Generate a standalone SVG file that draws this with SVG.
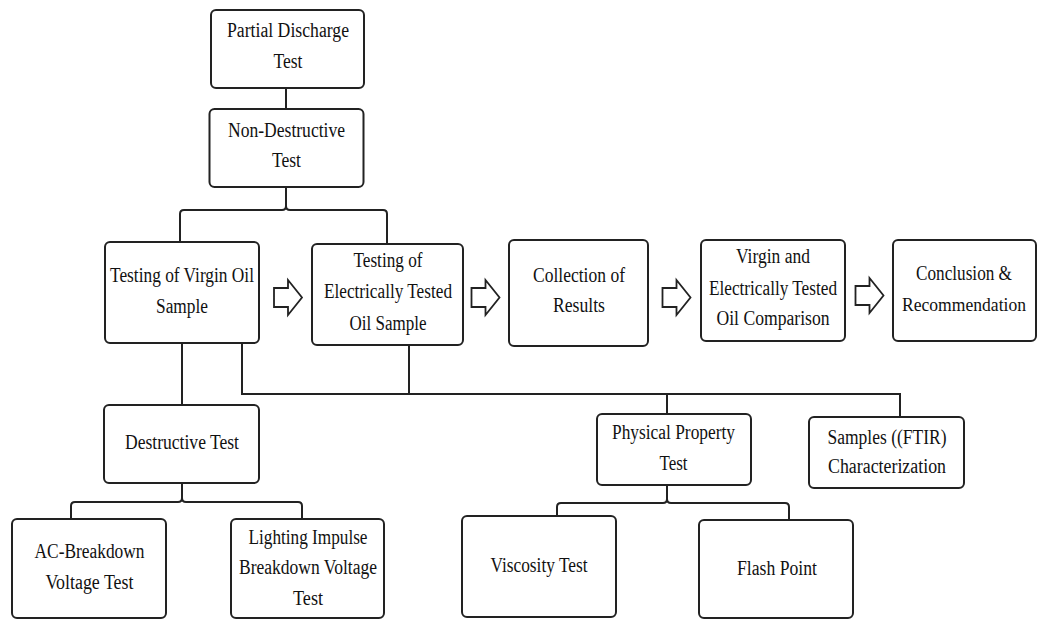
<svg xmlns="http://www.w3.org/2000/svg" xmlns:xlink="http://www.w3.org/1999/xlink" width="1039" height="620" viewBox="0 0 1039 620">
<style>
.box{fill:#fff;stroke:#222;stroke-width:2}
.t{font-family:"Liberation Serif","Times New Roman",serif;font-size:20px;fill:#111;text-anchor:middle}
.s{font-size:19px}
.con{fill:none;stroke:#222;stroke-width:2}
.arr{fill:#fff;stroke:#222;stroke-width:1.8;stroke-linejoin:miter}
</style>
<defs>
<path id="blockArrow" d="M0,8 H14 V0 L28,17.5 L14,35 V27 H0 Z"/>
</defs>
<rect width="1039" height="620" fill="#fff"/>
<g id="connectors">
<path class="con" d="M286,88 V109"/>
<path class="con" d="M180,242 V214 Q180,210 184,210 H282 Q286,210 286,206 V187 M286,206 Q286,210 290,210 H383 Q387,210 387,214 V244"/>
<path class="con" d="M182,343 V405"/>
<path class="con" d="M242,343 V394 H900 V417 M409,345 V394 M667,394 V414"/>
<path class="con" d="M71,519 V506 Q71,502 75,502 H178 Q182,502 182,498 V483 M182,498 Q182,502 186,502 H298 Q302,502 302,506 V519"/>
<path class="con" d="M557,516 V507 Q557,503 561,503 H663 Q667,503 667,499 V485 M667,499 Q667,503 671,503 H785 Q789,503 789,507 V520"/>
<use href="#blockArrow" xlink:href="#blockArrow" class="arr" x="274" y="280"/>
<use href="#blockArrow" xlink:href="#blockArrow" class="arr" x="471.5" y="280"/>
<use href="#blockArrow" xlink:href="#blockArrow" class="arr" x="662.5" y="280"/>
<use href="#blockArrow" xlink:href="#blockArrow" class="arr" x="855.5" y="278"/>
</g>
<g id="partial-discharge">
<rect class="box" x="211" y="10" width="153" height="78" rx="5"/>
<text class="t" x="288" y="37" textLength="122" lengthAdjust="spacingAndGlyphs">Partial Discharge</text>
<text class="t" x="288" y="68" textLength="29" lengthAdjust="spacingAndGlyphs">Test</text>
</g>
<g id="non-destructive">
<rect class="box" x="209.5" y="109" width="154" height="78" rx="5"/>
<text class="t" x="286.5" y="137" textLength="117" lengthAdjust="spacingAndGlyphs">Non-Destructive</text>
<text class="t" x="286.5" y="167" textLength="29" lengthAdjust="spacingAndGlyphs">Test</text>
</g>
<g id="virgin-oil">
<rect class="box" x="105" y="242" width="154" height="101" rx="5"/>
<text class="t" x="182" y="282" textLength="144" lengthAdjust="spacingAndGlyphs">Testing of Virgin Oil</text>
<text class="t" x="182" y="312.5" textLength="52" lengthAdjust="spacingAndGlyphs">Sample</text>
</g>
<g id="electrically-tested">
<rect class="box" x="312" y="244" width="151" height="101" rx="5"/>
<text class="t" x="388" y="267" textLength="69" lengthAdjust="spacingAndGlyphs">Testing of</text>
<text class="t" x="388" y="298" textLength="128" lengthAdjust="spacingAndGlyphs">Electrically Tested</text>
<text class="t" x="388" y="330" textLength="77" lengthAdjust="spacingAndGlyphs">Oil Sample</text>
</g>
<g id="collection">
<rect class="box" x="509" y="240" width="139" height="106" rx="5"/>
<text class="t" x="579" y="282" textLength="92" lengthAdjust="spacingAndGlyphs">Collection of</text>
<text class="t" x="579" y="312" textLength="52" lengthAdjust="spacingAndGlyphs">Results</text>
</g>
<g id="comparison">
<rect class="box" x="701" y="240" width="144" height="101" rx="5"/>
<text class="t" x="773" y="263" textLength="74" lengthAdjust="spacingAndGlyphs">Virgin and</text>
<text class="t" x="773" y="295" textLength="128" lengthAdjust="spacingAndGlyphs">Electrically Tested</text>
<text class="t" x="773" y="325" textLength="113" lengthAdjust="spacingAndGlyphs">Oil Comparison</text>
</g>
<g id="conclusion">
<rect class="box" x="893" y="240" width="143" height="101" rx="5"/>
<text class="t" x="964" y="280" textLength="96" lengthAdjust="spacingAndGlyphs">Conclusion &amp;</text>
<text class="t s" x="964" y="310.5" textLength="124" lengthAdjust="spacingAndGlyphs">Recommendation</text>
</g>
<g id="destructive">
<rect class="box" x="104" y="405" width="155" height="78" rx="5"/>
<text class="t" x="182" y="449" textLength="114" lengthAdjust="spacingAndGlyphs">Destructive Test</text>
</g>
<g id="ac-breakdown">
<rect class="box" x="12" y="519" width="154" height="99" rx="5"/>
<text class="t" x="89.5" y="557.5" textLength="110" lengthAdjust="spacingAndGlyphs">AC-Breakdown</text>
<text class="t" x="89.5" y="589" textLength="88" lengthAdjust="spacingAndGlyphs">Voltage Test</text>
</g>
<g id="lighting-impulse">
<rect class="box" x="231" y="519" width="153" height="99" rx="5"/>
<text class="t" x="308" y="543.5" textLength="119" lengthAdjust="spacingAndGlyphs">Lighting Impulse</text>
<text class="t" x="308" y="574" textLength="138" lengthAdjust="spacingAndGlyphs">Breakdown Voltage</text>
<text class="t" x="308" y="605" textLength="30" lengthAdjust="spacingAndGlyphs">Test</text>
</g>
<g id="physical-property">
<rect class="box" x="597" y="414" width="154" height="71" rx="5"/>
<text class="t" x="673.5" y="438.5" textLength="123" lengthAdjust="spacingAndGlyphs">Physical Property</text>
<text class="t" x="673.5" y="470" textLength="28" lengthAdjust="spacingAndGlyphs">Test</text>
</g>
<g id="ftir">
<rect class="box" x="809" y="417" width="155" height="71" rx="5"/>
<text class="t" x="887" y="443.5" textLength="119" lengthAdjust="spacingAndGlyphs">Samples ((FTIR)</text>
<text class="t" x="887" y="473" textLength="118" lengthAdjust="spacingAndGlyphs">Characterization</text>
</g>
<g id="viscosity">
<rect class="box" x="462" y="516" width="154" height="101" rx="5"/>
<text class="t" x="539" y="572" textLength="97" lengthAdjust="spacingAndGlyphs">Viscosity Test</text>
</g>
<g id="flash-point">
<rect class="box" x="699" y="520" width="154" height="98" rx="5"/>
<text class="t" x="777" y="575" textLength="80" lengthAdjust="spacingAndGlyphs">Flash Point</text>
</g>
</svg>
